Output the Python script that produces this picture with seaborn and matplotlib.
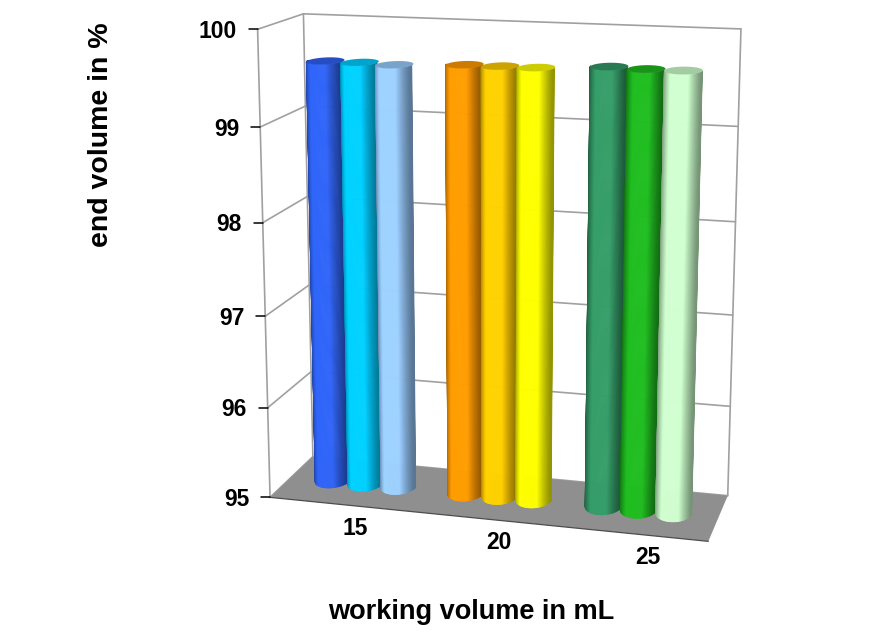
import numpy as np
import pandas as pd
import matplotlib
matplotlib.use("Agg")
import matplotlib.pyplot as plt
from matplotlib.collections import PolyCollection
from matplotlib.patches import Polygon, Rectangle
from matplotlib.transforms import Affine2D
import seaborn as sns

W, H = 878, 643
volumes = ["15", "20", "25"]
series = ["a", "b", "c"]
values_a = [99.60, 99.62, 99.66]
values_b = [99.60, 99.62, 99.65]
values_c = [99.59, 99.62, 99.65]
colors = ["#2f62f2", "#00ccff", "#99ccff",
          "#ff9900", "#ffcc00", "#ffff00",
          "#339966", "#1fb81f", "#ccffcc"]
y_ticks = [95, 96, 97, 98, 99, 100]
Y_MIN, Y_MAX = 95, 100

sns.set_theme(style="white")
plt.rcParams["font.family"] = ["Liberation Sans", "DejaVu Sans"]

# Perspective camera fitted to the corners of the chart box
world = [(0,0,0),(1,0,0),(1,1,0),(0,1,0),(0,1,1),(1,1,1),(0,0,1)]
image = [(270,497),(708,542),(728,495),(313,457),(303,14),(741,29),(258,29)]
rows = []
for (a,b,c),(u,v) in zip(world,image):
    rows.append([a,b,c,1,0,0,0,0,-u*a,-u*b,-u*c,-u])
    rows.append([0,0,0,0,a,b,c,1,-v*a,-v*b,-v*c,-v])
P = np.linalg.svd(np.array(rows,float))[2][-1].reshape(3,4)

def project(x, d, t):
    x, d, t = np.broadcast_arrays(x, d, t)
    q = P @ np.vstack([x.ravel(), d.ravel(), t.ravel(), np.ones(x.size)])
    return np.column_stack([q[0]/q[2], q[1]/q[2]])

def tnorm(v):
    return (np.asarray(v, float)-Y_MIN)/(Y_MAX-Y_MIN)

fig = plt.figure(figsize=(W/100, H/100), dpi=100)
ax = fig.add_axes([0,0,1,1])
long = pd.DataFrame({
    "volume": np.repeat(volumes, 3),
    "series": series*3,
    "value": [s[i] for i in range(3) for s in (values_a, values_b, values_c)],
})
sns.barplot(data=long, x="volume", y="value", hue="series", hue_order=series,
            width=0.75, gap=0, ax=ax, legend=False, errorbar=None)
bars = sorted([b for b in ax.patches if isinstance(b, Rectangle) and b.get_height() > 0],
              key=lambda b: b.get_x())
ax.set_xlim(-0.5, 2.5)
ax.set_ylim(Y_MIN, Y_MAX)
ax.axis("off")
px = Affine2D().scale(1,-1).translate(0,H)

def seg(pts, color="#a0a0a0", lw=1.2, z=1):
    pts = np.asarray(pts)
    ax.plot(pts[:,0], pts[:,1], color=color, lw=lw, transform=px, zorder=z,
            solid_capstyle="round", clip_on=False)

# Floor
ax.add_patch(Polygon(project([0,1,1,0],[0,0,1,1],0), closed=True, fc="#8f8f8f", ec="none",
                     transform=px, zorder=2))
seg(project([0,1],0,0), color="#4d4d4d", lw=0.9, z=3)
# Frame and gridlines
seg(project(0,[0,1],1)); seg(project([0,1],1,1))
seg(project(1,1,[1,0])); seg(project(0,1,[1,0])); seg(project(0,0,[1,0]))
for tv in y_ticks[:-1]:
    t = tnorm(tv)
    seg(project(0,[0,1],t)); seg(project([0,1],1,t))
# Ticks and labels
for tv in y_ticks:
    p = project(0,0,tnorm(tv))[0]
    seg([p,(p[0]-9,p[1])], color="black", lw=1.1, z=3)
    ax.text(p[0]-21, p[1]+2, str(tv), transform=px, ha="right", va="center",
            fontsize=16.5, fontweight="bold", color="black")

def shade(col, k):
    c = np.array(matplotlib.colors.to_rgb(col))
    return tuple(np.clip(c*k, 0, 1))

# Cylinders built from the seaborn bars
rd = 0.2
dc = 0.52
squeeze = 0.96
thetas = np.linspace(-np.pi/2, np.pi/2, 61)
for i, b in enumerate(bars):
    b.set_visible(False)
    xc = 0.5 + squeeze*(b.get_x()+b.get_width()/2-1)/3
    r = squeeze*b.get_width()/3/2
    top = tnorm(b.get_height())
    polys, fcs = [], []
    for a0, a1 in zip(thetas[:-1], thetas[1:]):
        am = (a0+a1)/2
        xs = xc + r*np.sin([a0,a1,a1,a0])
        ds = dc - rd*np.cos([a0,a1,a1,a0])
        polys.append(project(xs, ds, [0,0,top,top]))
        s = abs(np.sin(am))
        k = 1.03 - 0.45*np.clip((s-0.45)/0.55, 0, 1)
        fcs.append(shade(colors[i], k))
    pc = PolyCollection(polys, facecolors=fcs, edgecolors=fcs, linewidths=0.5,
                        transform=px, zorder=5+i*0.01)
    pc.set_snap(False)
    ax.add_collection(pc)
    ang = np.linspace(0, 2*np.pi, 60)
    cap = project(xc+r*np.sin(ang), dc-rd*np.cos(ang), top)
    cp = Polygon(cap, closed=True, fc=shade(colors[i], 0.8), ec="none",
                 transform=px, zorder=5+i*0.01+0.005)
    cp.set_snap(False)
    ax.add_patch(cp)

# Category labels
for j, lab in enumerate(volumes):
    p = project((j+0.5)/3, 0, 0)[0]
    ax.text(p[0]+16, p[1]+24, lab, transform=px, ha="center", va="center",
            fontsize=16.5, fontweight="bold", color="black")
ax.text(471, 612, "working volume in mL", transform=px, ha="center", va="center",
        fontsize=19.5, fontweight="bold", color="black")
ax.text(101, 135, "end volume in %", transform=px, ha="center", va="center", rotation=90,
        fontsize=20.5, fontweight="bold", color="black")
fig.savefig("out.png", dpi=100)
